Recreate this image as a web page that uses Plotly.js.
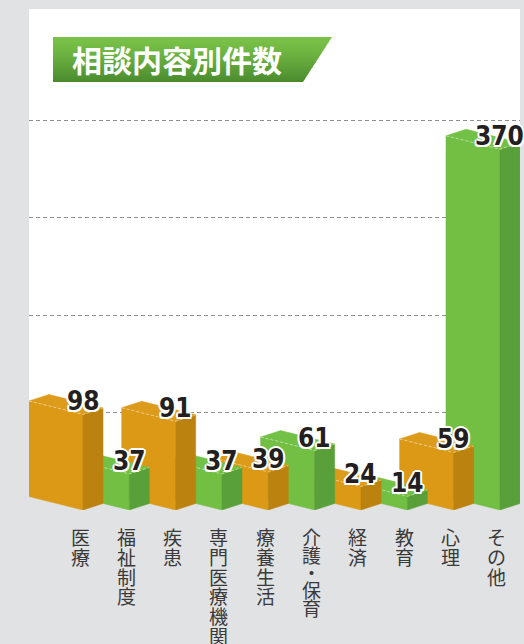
<!DOCTYPE html>
<html><head><meta charset="utf-8">
<script src="https://cdn.plot.ly/plotly-3.0.1.min.js"></script>
<style>html,body{margin:0;padding:0;background:#e1e2e4;}#chart{width:524px;height:644px;}</style>
</head><body><div id="chart"></div>
<script>
// ---- data ----
const categories = ['医療','福祉制度','疾患','専門医療機関','療養生活','介護・保育','経済','教育','心理','その他'];
const counts = [98, 37, 91, 37, 39, 61, 24, 14, 59, 370];
const gridValues = [100, 200, 300, 400];
const chartTitle = '相談内容別件数';

// ---- style / layout constants ----
const W = 524, H = 644;
const M = {l: 29, r: 4, t: 10, b: 134};
const PW = W - M.l - M.r, PH = H - M.t - M.b;
const PX_PER_UNIT = 0.975;          // vertical pixels per count
const SLOT_PX = 46.33;              // horizontal pixels per category
const FRONT_PX = 54, SIDE_PX = 20, FRONT_RISE_PX = 13.5, SIDE_RISE_PX = 6.5;
const FW = FRONT_PX / SLOT_PX, SW = SIDE_PX / SLOT_PX;
const FR = FRONT_RISE_PX / PX_PER_UNIT, SR = SIDE_RISE_PX / PX_PER_UNIT;
const xMin = -FRONT_PX / SLOT_PX;
const xRange = [xMin, xMin + PW / SLOT_PX];
const yRange = [0, PH / PX_PER_UNIT];
const palette = [
  {front: '#db9916', side: '#bb820f', top: '#dc9b1a'},
  {front: '#72bf44', side: '#5aa03a', top: '#73c046'}
];
const numFont = {family: '"Liberation Sans Narrow", "DejaVu Sans Condensed", "Arial Narrow", sans-serif', size: 26, color: '#231f20', weight: 700,
  shadow: '2px 0 0 #fff, -2px 0 0 #fff, 0 2px 0 #fff, 0 -2px 0 #fff, 1.5px 1.5px 0 #fff, -1.5px 1.5px 0 #fff, 1.5px -1.5px 0 #fff, -1.5px -1.5px 0 #fff'};
const CAT_GLYPH = 19, LABEL_TOP = 521, LABEL_PITCH = 19.8, LINE_SPACING = 1.3;

const px2paperX = px => (px - M.l) / PW;
const px2paperY = py => (M.t + PH - py) / PH;

// ---- 3D box traces (last bar first so earlier bars sit in front) ----
const traces = [];
function poly(xs, ys, color) {
  traces.push({type: 'scatter', mode: 'lines', x: xs.concat([xs[0]]), y: ys.concat([ys[0]]),
    fill: 'toself', fillcolor: color, line: {color: color, width: 0.5}, hoverinfo: 'skip', showlegend: false});
}
for (let i = counts.length - 1; i >= 0; i--) {
  const v = counts[i], c = palette[i % 2];
  poly([i - FW, i, i, i - FW], [FR, 0, v, v + FR], c.front);
  poly([i, i + SW, i + SW, i], [0, SR, v + SR, v], c.side);
  poly([i - FW, i, i + SW, i - FW + SW], [v + FR, v, v + SR, v + FR + SR], c.top);
  traces.push({type: 'scatter', mode: 'lines', x: [i - FW, i, i + SW], y: [v + FR, v, v + SR],
    line: {color: 'rgba(255,255,255,0.45)', width: 1, dash: '3px,2px'}, hoverinfo: 'skip', showlegend: false});
}

// ---- annotations ----
const annotations = [];
counts.forEach((v, i) => {
  annotations.push({xref: 'x', yref: 'y', x: i, y: v, text: String(v), showarrow: false,
    xanchor: 'center', yanchor: 'bottom', yshift: -4, font: numFont});
});
categories.forEach((cat, i) => {
  const chars = Array.from(cat);
  const hs = chars.map(ch => ch === '・' ? 0.6 : 1);
  let span = 0;
  for (let k = 0; k < hs.length - 1; k++) span += (hs[k] + hs[k + 1]) / 2;
  const pitch = hs.length > 1 ? LABEL_PITCH * span / (hs.length - 1) : LABEL_PITCH;
  const baseSize = pitch / LINE_SPACING;
  const text = chars.map(ch => `<span style="font-size:${CAT_GLYPH}px">${ch}</span>`).join('<br>');
  annotations.push({xref: 'x', yref: 'paper', x: i - 3 / SLOT_PX, y: px2paperY(LABEL_TOP), text: text,
    showarrow: false, xanchor: 'center', yanchor: 'top', align: 'center',
    font: {family: '"Noto Sans CJK JP", sans-serif', size: baseSize, color: '#3a3a3a'}});
});
annotations.push({xref: 'paper', yref: 'paper', x: px2paperX(177), y: px2paperY(59), text: chartTitle,
  showarrow: false, xanchor: 'center', yanchor: 'middle',
  font: {family: '"Noto Sans CJK JP", sans-serif', size: 30, color: '#ffffff', weight: 700}});

// ---- shapes: white panel + gradient banner ----
const shapes = [{type: 'rect', xref: 'paper', yref: 'paper', x0: 0, x1: px2paperX(520),
  y0: px2paperY(497), y1: px2paperY(9), fillcolor: '#ffffff', line: {width: 0}, layer: 'below'}];
const B = {x0: 53, top: 37, bot: 82, rTop: 332, rBot: 303};
const topCol = [122, 194, 72], botCol = [74, 138, 46];
const N = 18;
for (let k = 0; k < N; k++) {
  const ya = B.top + (B.bot - B.top) * k / N, yb = B.top + (B.bot - B.top) * (k + 1) / N + 0.6;
  const xr = y => B.rTop + (B.rBot - B.rTop) * (y - B.top) / (B.bot - B.top);
  const t = Math.pow((k + 0.5) / N, 1.3);
  const col = topCol.map((c, j) => Math.round(c + (botCol[j] - c) * t));
  const ybc = Math.min(yb, B.bot);
  shapes.push({type: 'path', xref: 'paper', yref: 'paper', layer: 'below',
    path: `M${px2paperX(B.x0)},${px2paperY(ya)} L${px2paperX(xr(ya))},${px2paperY(ya)} L${px2paperX(xr(ybc))},${px2paperY(ybc)} L${px2paperX(B.x0)},${px2paperY(ybc)} Z`,
    fillcolor: `rgb(${col.join(',')})`, line: {width: 0}});
}

const layout = {
  width: W, height: H, margin: M,
  paper_bgcolor: '#e1e2e4', plot_bgcolor: 'rgba(0,0,0,0)',
  showlegend: false,
  xaxis: {range: xRange, showgrid: false, zeroline: false, showticklabels: false, showline: false, ticks: '', fixedrange: true},
  yaxis: {range: yRange, tickvals: gridValues, showgrid: true, gridcolor: '#8e8e8e', gridwidth: 1, griddash: '4px,3px',
    zeroline: false, showticklabels: false, showline: false, ticks: '', fixedrange: true},
  annotations: annotations, shapes: shapes
};
Plotly.newPlot('chart', traces, layout, {staticPlot: true, displayModeBar: false});
</script></body></html>
